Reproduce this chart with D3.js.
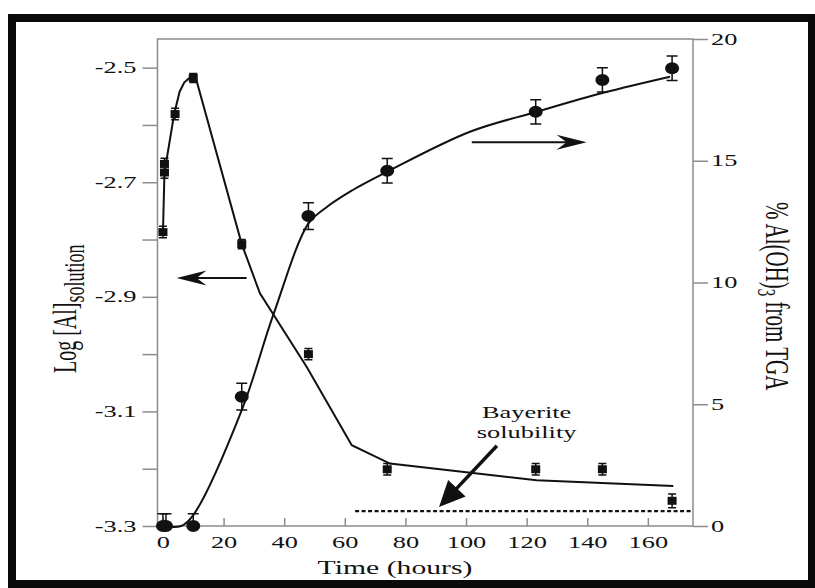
<!DOCTYPE html>
<html>
<head>
<meta charset="utf-8">
<script src="https://cdn.jsdelivr.net/npm/d3@7/dist/d3.min.js"></script>
<style>
  body { margin: 0; background: #fff; }
  svg text { font-family: "Liberation Serif", "Times New Roman", serif; fill: #111; }
</style>
</head>
<body>
<svg id="chart" width="815" height="588"></svg>
<script>
// ---- data ----
var sqTime   = [0, 0.5, 0.5, 4, 10, 26, 48, 74, 123, 145, 168];
var sqLogAl  = [-2.787, -2.683, -2.668, -2.581, -2.518, -2.808, -3.000, -3.201, -3.201, -3.201, -3.256];
var sqErr    = [0.01, 0.01, 0.01, 0.01, 0.008, 0.008, 0.01, 0.01, 0.01, 0.01, 0.012];

var circTime = [0, 1, 10, 26, 48, 74, 123, 145, 168];
var circPct  = [0, 0, 0, 5.31, 12.73, 14.59, 17.01, 18.32, 18.80];
var circErr  = [0.5, 0.5, 0.5, 0.55, 0.55, 0.5, 0.5, 0.5, 0.5];

var fitLeftTime = [0, 0.5, 3.7, 5.5, 7, 8.5, 10, 11, 26, 32, 47.4, 62.3, 74.9, 123.3, 168.4];
var fitLeftVal  = [-2.787, -2.683, -2.581, -2.542, -2.526, -2.519, -2.518, -2.521, -2.808, -2.894, -3.022, -3.159, -3.191, -3.220, -3.230];

var fitRightTime = [0, 6, 10, 26, 36.4, 48, 53, 62, 74, 101.3, 123.3, 145.3, 167.3];
var fitRightVal  = [0, 0, 0.45, 4.76, 8.67, 12.43, 13.0, 13.75, 14.55, 16.19, 17.01, 17.79, 18.45];

var leftTicks   = [-3.3, -3.2, -3.1, -3.0, -2.9, -2.8, -2.7, -2.6, -2.5];
var leftLabels  = ["-3.3", "", "-3.1", "", "-2.9", "", "-2.7", "", "-2.5"];
var rightTicks  = [0, 5, 10, 15, 20];
var timeTicks   = [0, 20, 40, 60, 80, 100, 120, 140, 160];

// annotations (time, value on left axis unless noted)
var bayeriteLevel = -3.274, bayeriteFrom = 63.4;
var leftArrow  = {from: 27.6, to: 4.5, val: -2.867};
var rightArrow = {from: 101.9, to: 139.8, val: 15.76};   // right axis units
var bayArrow   = {t0: 110.2, v0: -3.160, t1: 91.1, v1: -3.267};
var bayText    = {t: 120, lines: ["Bayerite", "solubility"], v: [-3.111, -3.146]};

var stretch = 1.65;   // the original figure is horizontally stretched
var svg = d3.select("#chart");
var x  = d3.scaleLinear().domain([-1.8, 174.9]).range([157.5, 693]);
var yL = d3.scaleLinear().domain([-3.3, -2.45]).range([526, 39]);
var yR = d3.scaleLinear().domain([0, 20]).range([526, 39]);

// outer black frame
svg.append("rect").attr("x", 12).attr("y", 18).attr("width", 800).attr("height", 566)
   .attr("fill", "none").attr("stroke", "#0a0a0a").attr("stroke-width", 8);

var axisColor = "#8c8c8c";
function styleAxis(g) {
  g.attr("font-size", 16).attr("font-family", "Liberation Serif, serif");
  g.select(".domain").remove();
  g.selectAll(".tick line").attr("stroke", axisColor).attr("stroke-width", 1.5);
  g.selectAll(".tick text").attr("fill", "#333").each(function() {
    var t = d3.select(this), tx = +t.attr("x") || 0;
    t.attr("x", 0).attr("transform", "translate(" + tx + ",0) scale(" + stretch + ",1)");
  });
}

var gl = svg.append("g").attr("transform", "translate(157.5,0)")
  .call(d3.axisLeft(yL).tickValues(leftTicks).tickSize(15).tickPadding(6)
    .tickFormat(function(d, i) { return leftLabels[i]; }));
styleAxis(gl);

var gr = svg.append("g").attr("transform", "translate(693,0)")
  .call(d3.axisRight(yR).tickValues(rightTicks).tickSize(15).tickPadding(3));
styleAxis(gr);

var gb = svg.append("g").attr("transform", "translate(0,526)")
  .call(d3.axisBottom(x).tickValues(timeTicks).tickSize(-8).tickPadding(11));
styleAxis(gb);

// plot frame
svg.append("rect").attr("x", 157.5).attr("y", 39).attr("width", 693 - 157.5).attr("height", 526 - 39)
   .attr("fill", "none").attr("stroke", axisColor).attr("stroke-width", 1.5);

// axis titles
svg.append("text").attr("transform", "translate(395,574) scale(" + stretch + ",1)")
   .attr("text-anchor", "middle").attr("font-size", 18).attr("fill", "#222").text("Time (hours)");

var tl = svg.append("text").attr("transform", "translate(76,373) rotate(-90) scale(1," + stretch + ")")
   .attr("font-size", 20).attr("fill", "#222");
tl.append("tspan").text("Log [Al]");
tl.append("tspan").attr("font-size", 18).attr("dy", 5).text("solution");

var tr = svg.append("text").attr("transform", "translate(766,202) rotate(90) scale(1," + stretch + ")")
   .attr("font-size", 21).attr("fill", "#222");
tr.append("tspan").text("% Al(OH)");
tr.append("tspan").attr("font-size", 15).attr("dy", 5).text("3");
tr.append("tspan").attr("dy", -5).text(" from TGA");

// fitted curves
var lineL = d3.line().x(function(d, i) { return x(fitLeftTime[i]); }).y(function(d) { return yL(d); });
var lineR = d3.line().x(function(d, i) { return x(fitRightTime[i]); }).y(function(d) { return yR(d); })
  .curve(d3.curveCatmullRom.alpha(0.5));
svg.append("path").attr("d", lineL(fitLeftVal)).attr("fill", "none").attr("stroke", "#111").attr("stroke-width", 2);
svg.append("path").attr("d", lineR(fitRightVal)).attr("fill", "none").attr("stroke", "#111").attr("stroke-width", 2);

// error bars + markers
function errBar(cx, ya, yb, w) {
  var p = d3.path();
  p.moveTo(cx, ya); p.lineTo(cx, yb);
  p.moveTo(cx - w / 2, ya); p.lineTo(cx + w / 2, ya);
  p.moveTo(cx - w / 2, yb); p.lineTo(cx + w / 2, yb);
  return p.toString();
}
svg.append("g").selectAll("path").data(sqLogAl).join("path")
   .attr("d", function(d, i) { return errBar(x(sqTime[i]), yL(d + sqErr[i]), yL(d - sqErr[i]), 8); })
   .attr("stroke", "#111").attr("stroke-width", 1.5).attr("fill", "none");
svg.append("g").selectAll("rect").data(sqLogAl).join("rect")
   .attr("x", function(d, i) { return x(sqTime[i]) - 4.5; }).attr("y", function(d) { return yL(d) - 4; })
   .attr("width", 9).attr("height", 8).attr("fill", "#111");

svg.append("g").selectAll("path").data(circPct).join("path")
   .attr("d", function(d, i) { return errBar(x(circTime[i]), yR(d + circErr[i]), yR(Math.max(0, d - circErr[i])), 11); })
   .attr("stroke", "#111").attr("stroke-width", 1.5).attr("fill", "none");
svg.append("g").selectAll("ellipse").data(circPct).join("ellipse")
   .attr("cx", function(d, i) { return x(circTime[i]); }).attr("cy", function(d) { return yR(d); })
   .attr("rx", 7).attr("ry", 6).attr("fill", "#111");

// bayerite solubility
svg.append("line").attr("x1", x(bayeriteFrom)).attr("x2", 693)
   .attr("y1", yL(bayeriteLevel)).attr("y2", yL(bayeriteLevel))
   .attr("stroke", "#111").attr("stroke-width", 2.4).attr("stroke-dasharray", "4,2.5");

// thin arrows with concave heads
function thinArrow(x1, x2, y) {
  var dir = x2 > x1 ? 1 : -1;
  svg.append("line").attr("x1", x1).attr("x2", x2 - dir * 18).attr("y1", y).attr("y2", y)
     .attr("stroke", "#111").attr("stroke-width", 2);
  var pts = [[x2, y], [x2 - dir * 30, y - 7.5], [x2 - dir * 20, y], [x2 - dir * 30, y + 7.5]];
  svg.append("path").attr("d", "M" + pts.join("L") + "Z").attr("fill", "#111");
}
thinArrow(x(leftArrow.from), x(leftArrow.to), yL(leftArrow.val));
thinArrow(x(rightArrow.from), x(rightArrow.to), yR(rightArrow.val));

// thick arrow to the solubility line
(function() {
  var ax = x(bayArrow.t0), ay = yL(bayArrow.v0), bx = x(bayArrow.t1), by = yL(bayArrow.v1);
  var dx = bx - ax, dy = by - ay, len = Math.sqrt(dx * dx + dy * dy), ux = dx / len, uy = dy / len;
  var hl = 26, hw = 12;
  var baseX = bx - ux * hl, baseY = by - uy * hl;
  svg.append("line").attr("x1", ax).attr("y1", ay).attr("x2", baseX + ux * 2).attr("y2", baseY + uy * 2)
     .attr("stroke", "#111").attr("stroke-width", 3.5);
  svg.append("path").attr("fill", "#111")
     .attr("d", "M" + bx + "," + by + "L" + (baseX - uy * hw) + "," + (baseY + ux * hw) +
                "L" + (baseX + uy * hw) + "," + (baseY - ux * hw) + "Z");
})();

bayText.lines.forEach(function(s, i) {
  svg.append("text").attr("transform", "translate(" + x(bayText.t) + "," + yL(bayText.v[i]) + ") scale(" + stretch + ",1)")
     .attr("text-anchor", "middle").attr("font-size", 16).attr("fill", "#222").text(s);
});
</script>
</body>
</html>
